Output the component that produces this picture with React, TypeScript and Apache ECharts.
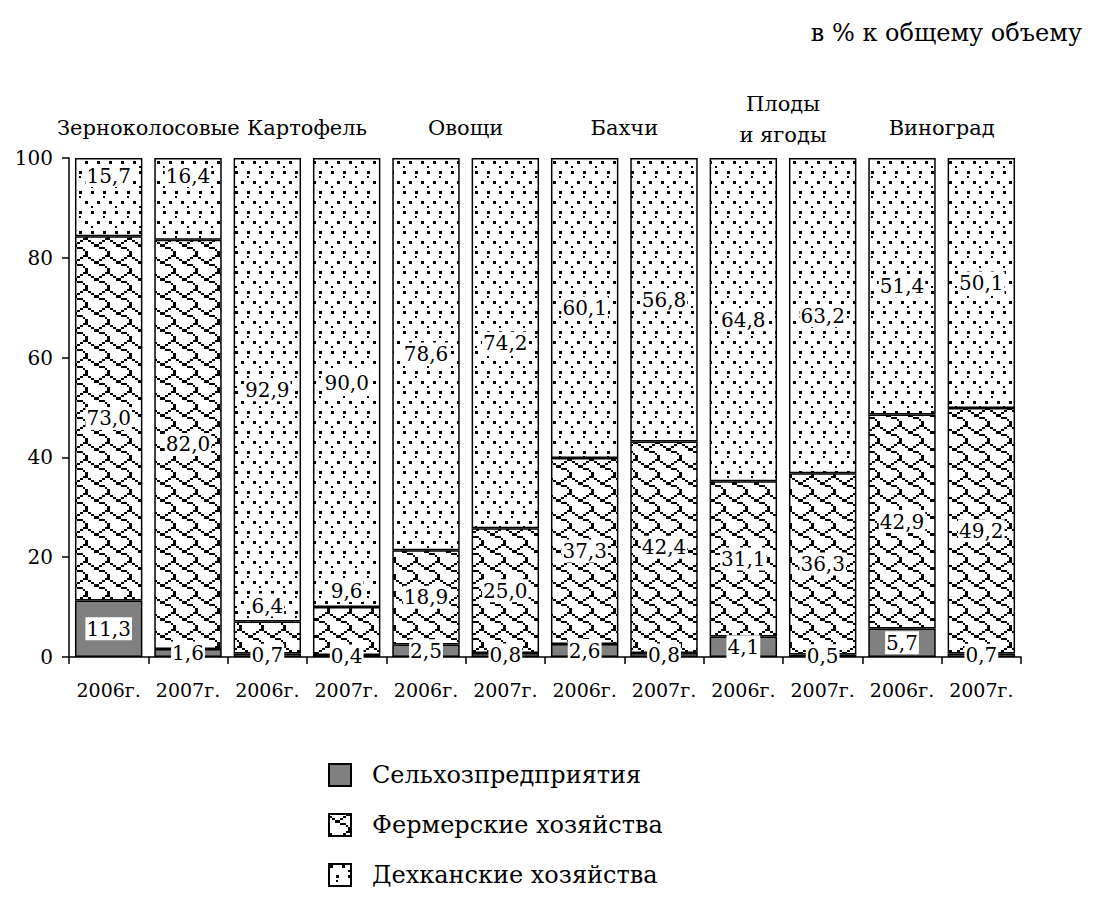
import React, { useEffect, useRef } from "react";
import * as echarts from "echarts";

const categories = [
  "2006г.", "2007г.", "2006г.", "2007г.", "2006г.", "2007г.",
  "2006г.", "2007г.", "2006г.", "2007г.", "2006г.", "2007г.",
];
const groupNames = ["Зерноколосовые", "Картофель", "Овощи", "Бахчи", "Плоды\nи ягоды", "Виноград"];
const seriesNames = ["Сельхозпредприятия", "Фермерские хозяйства", "Дехканские хозяйства"];
const selkhoz = [11.3, 1.6, 0.7, 0.4, 2.5, 0.8, 2.6, 0.8, 4.1, 0.5, 5.7, 0.7];
const fermer = [73.0, 82.0, 6.4, 9.6, 18.9, 25.0, 37.3, 42.4, 31.1, 36.3, 42.9, 49.2];
const dekhkan = [15.7, 16.4, 92.9, 90.0, 78.6, 74.2, 60.1, 56.8, 64.8, 63.2, 51.4, 50.1];
const yMin = 0;
const yMax = 100;
const yInterval = 20;
const unitTitle = "в % к общему объему";

const FONT = "DejaVu Serif";

function svgUrl(svg: string) {
  return "data:image/svg+xml;charset=utf-8," + encodeURIComponent(svg);
}

// 8x8 "shingle" hatch bitmap, stretched to 22x17 px
const shingleRows = [0x03, 0x84, 0x48, 0x30, 0x0c, 0x02, 0x01, 0x01];
function bitmapTile(rows: number[]) {
  let rects = "";
  rows.forEach((r, y) => {
    for (let x = 0; x < 8; x++) {
      if (r & (0x80 >> x)) rects += `<rect x="${x}" y="${y}" width="1" height="1"/>`;
    }
  });
  return svgUrl(
    '<svg xmlns="http://www.w3.org/2000/svg" width="22" height="17" viewBox="0 0 8 8" preserveAspectRatio="none" shape-rendering="crispEdges">' +
      '<rect width="8" height="8" fill="#fff"/>' +
      `<g fill="#000">${rects}</g>` +
      "</svg>"
  );
}
const meshTile = bitmapTile(shingleRows);

const dotTile = svgUrl(
  '<svg xmlns="http://www.w3.org/2000/svg" width="24" height="20" viewBox="0 0 24 20" shape-rendering="crispEdges">' +
    '<rect width="24" height="20" fill="#fff"/>' +
    '<rect x="1" y="1" width="3" height="3" fill="#000"/>' +
    '<rect x="13" y="1" width="3" height="3" fill="#000"/>' +
    '<rect x="7" y="11" width="3" height="3" fill="#000"/>' +
    '<rect x="19" y="11" width="3" height="3" fill="#000"/>' +
    '<rect x="19" y="6" width="2" height="2" fill="#000"/>' +
    '<rect x="7" y="16" width="2" height="2" fill="#000"/>' +
    "</svg>"
);

const fmt = (p: any) => Number(p.value).toFixed(1).replace(".", ",");

export default function App() {
  const ref = useRef<HTMLDivElement>(null);
  useEffect(() => {
    document.body.style.margin = "0";
    if (!ref.current) return;
    const chart = echarts.init(ref.current, null, { renderer: "svg" });
    const baseLabel = {
      show: true,
      position: "inside",
      formatter: fmt,
      fontFamily: FONT,
      fontSize: 20,
      color: "#000",
      backgroundColor: "#fff",
      padding: [2, 1, 1, 1],
    };
    const border = { borderColor: "#000", borderWidth: 1.5 };
    chart.setOption({
      animation: false,
      backgroundColor: "#fff",
      textStyle: { fontFamily: FONT, color: "#000" },
      title: {
        text: unitTitle,
        right: 16,
        top: 16,
        textStyle: { fontFamily: FONT, fontSize: 24, fontWeight: "normal", color: "#000" },
      },
      legend: {
        orient: "vertical",
        left: 328,
        top: 763,
        height: 137,
        padding: 0,
        itemWidth: 22,
        itemHeight: 22,
        itemGap: 26,
        icon: "rect",
        data: seriesNames,
        textStyle: {
          fontFamily: FONT,
          fontSize: 24,
          color: "#000",
          lineHeight: 22,
          padding: [0, 0, 0, 16],
        },
      },
      grid: { left: 69, right: 82, top: 158, bottom: 243, containLabel: false },
      xAxis: [
        {
          type: "category",
          data: categories,
          position: "bottom",
          axisLine: { lineStyle: { color: "#000", width: 1.5 } },
          axisTick: { show: true, length: 7, lineStyle: { color: "#000", width: 1.5 } },
          axisLabel: { fontFamily: FONT, fontSize: 19, color: "#000", margin: 23, interval: 0 },
        },
        {
          type: "category",
          data: groupNames.map((g) =>
            g.indexOf("\n") >= 0 ? { value: g } : { value: g, textStyle: { padding: [0, 0, 7, 0] } }
          ),
          position: "top",
          axisLine: { show: false },
          axisTick: { show: false },
          axisLabel: {
            fontFamily: FONT,
            fontSize: 21,
            color: "#000",
            lineHeight: 31,
            margin: 8,
            interval: 0,
          },
        },
      ],
      yAxis: {
        type: "value",
        min: yMin,
        max: yMax,
        interval: yInterval,
        splitLine: { show: false },
        axisLine: { show: true, lineStyle: { color: "#000", width: 1.5 } },
        axisTick: { show: true, length: 7, lineStyle: { color: "#000", width: 1.5 } },
        axisLabel: { fontFamily: FONT, fontSize: 20, color: "#000", margin: 16 },
      },
      series: [
        {
          name: seriesNames[0],
          type: "bar",
          stack: "total",
          barCategoryGap: "15%",
          data: selkhoz,
          itemStyle: { color: "#808080", ...border },
          label: baseLabel,
        },
        {
          name: seriesNames[1],
          type: "bar",
          stack: "total",
          barCategoryGap: "15%",
          data: fermer.map((v) =>
            v < 12 ? { value: v, label: { position: "top", distance: 5 } } : v
          ),
          itemStyle: {
            color: { image: meshTile, repeat: "repeat", imageWidth: 22, imageHeight: 17 },
            ...border,
          },
          label: baseLabel,
        },
        {
          name: seriesNames[2],
          type: "bar",
          stack: "total",
          barCategoryGap: "15%",
          data: dekhkan.map((v) =>
            v < 20 ? { value: v, label: { position: "insideTop", distance: 6 } } : v
          ),
          itemStyle: {
            color: { image: dotTile, repeat: "repeat", imageWidth: 24, imageHeight: 20 },
            ...border,
          },
          label: baseLabel,
        },
      ],
    });
    return () => chart.dispose();
  }, []);
  return <div ref={ref} style={{ width: 1103, height: 900 }} />;
}
